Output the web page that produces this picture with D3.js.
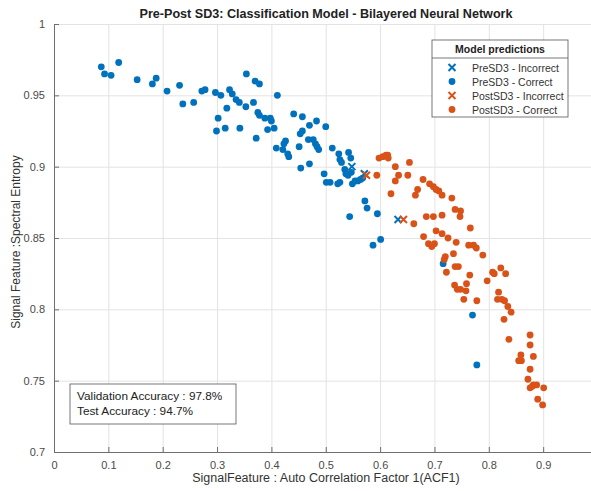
<!DOCTYPE html>
<html>
<head>
<meta charset="utf-8">
<script src="https://cdn.jsdelivr.net/npm/d3@7"></script>
<style>
  body { margin: 0; background: #fff; }
  svg { font-family: "Liberation Sans", Arial, sans-serif; display: block; }
</style>
</head>
<body>
<div class="canvas"></div>
<script>
// data: [ACF1, spectral entropy]
const preSD3Incorrect = [[0.548, 0.900], [0.571, 0.895], [0.633, 0.863]];
const preSD3Correct = [
  [0.087, 0.970], [0.093, 0.965], [0.105, 0.964], [0.119, 0.973], [0.153, 0.961],
  [0.181, 0.958], [0.188, 0.962], [0.208, 0.953], [0.231, 0.957], [0.237, 0.944],
  [0.257, 0.945], [0.272, 0.953], [0.278, 0.954], [0.297, 0.952], [0.307, 0.950],
  [0.323, 0.954], [0.328, 0.951], [0.335, 0.947], [0.341, 0.945], [0.318, 0.941],
  [0.302, 0.934], [0.299, 0.925], [0.315, 0.927], [0.342, 0.927], [0.354, 0.965],
  [0.370, 0.960], [0.378, 0.958], [0.411, 0.950], [0.367, 0.945], [0.353, 0.942],
  [0.375, 0.938], [0.378, 0.936], [0.388, 0.934], [0.398, 0.934], [0.400, 0.932],
  [0.393, 0.926], [0.405, 0.927], [0.372, 0.920], [0.441, 0.937], [0.457, 0.935],
  [0.483, 0.932], [0.470, 0.929], [0.500, 0.928], [0.457, 0.925], [0.453, 0.923],
  [0.426, 0.918], [0.423, 0.916], [0.468, 0.919], [0.477, 0.919], [0.481, 0.916],
  [0.484, 0.914], [0.487, 0.912], [0.451, 0.914], [0.409, 0.913], [0.421, 0.912],
  [0.430, 0.909], [0.432, 0.907], [0.512, 0.913], [0.524, 0.909], [0.542, 0.910],
  [0.546, 0.906], [0.526, 0.905], [0.529, 0.903], [0.454, 0.899], [0.470, 0.902],
  [0.535, 0.898], [0.537, 0.895], [0.541, 0.894], [0.547, 0.896], [0.497, 0.895],
  [0.501, 0.889], [0.508, 0.889], [0.522, 0.888], [0.526, 0.889], [0.549, 0.888],
  [0.554, 0.890], [0.559, 0.890], [0.564, 0.891], [0.568, 0.892], [0.572, 0.876],
  [0.576, 0.871], [0.544, 0.865], [0.595, 0.867], [0.601, 0.849], [0.587, 0.845],
  [0.716, 0.832], [0.770, 0.796], [0.778, 0.761]
];
const postSD3Incorrect = [[0.575, 0.894], [0.643, 0.863]];
const postSD3Correct = [
  [0.594, 0.894], [0.598, 0.906], [0.605, 0.907], [0.611, 0.908], [0.614, 0.908],
  [0.615, 0.906], [0.628, 0.900], [0.654, 0.903], [0.634, 0.894], [0.628, 0.890],
  [0.651, 0.894], [0.620, 0.881], [0.679, 0.891], [0.691, 0.888], [0.698, 0.886],
  [0.703, 0.884], [0.708, 0.883], [0.669, 0.884], [0.665, 0.880], [0.714, 0.880],
  [0.732, 0.878], [0.738, 0.870], [0.748, 0.869], [0.747, 0.865], [0.714, 0.866],
  [0.685, 0.865], [0.698, 0.865], [0.662, 0.860], [0.766, 0.857], [0.703, 0.855],
  [0.680, 0.851], [0.714, 0.853], [0.725, 0.850], [0.740, 0.847], [0.689, 0.846],
  [0.695, 0.844], [0.700, 0.846], [0.763, 0.845], [0.772, 0.845], [0.777, 0.843],
  [0.735, 0.839], [0.720, 0.837], [0.718, 0.835], [0.789, 0.838], [0.722, 0.826],
  [0.738, 0.830], [0.744, 0.830], [0.765, 0.824], [0.797, 0.820], [0.737, 0.817],
  [0.742, 0.814], [0.748, 0.814], [0.759, 0.818], [0.758, 0.813], [0.754, 0.807],
  [0.778, 0.806], [0.807, 0.826], [0.810, 0.825], [0.822, 0.829], [0.831, 0.825],
  [0.818, 0.812], [0.816, 0.807], [0.824, 0.807], [0.829, 0.806], [0.835, 0.802],
  [0.841, 0.798], [0.828, 0.793], [0.837, 0.779], [0.876, 0.782], [0.876, 0.775],
  [0.859, 0.768], [0.855, 0.764], [0.860, 0.764], [0.882, 0.767], [0.876, 0.758],
  [0.872, 0.751], [0.882, 0.747], [0.888, 0.747], [0.876, 0.745], [0.880, 0.746],
  [0.901, 0.745], [0.890, 0.737], [0.899, 0.733]
];
// tick at 1 falls just past the right edge of the window
const xTicks = [0, 0.1, 0.2, 0.3, 0.4, 0.5, 0.6, 0.7, 0.8, 0.9];
const yTicks = [0.7, 0.75, 0.8, 0.85, 0.9, 0.95, 1];
const accuracyLines = ['Validation Accuracy : 97.8%', 'Test Accuracy : 94.7%'];

const blue = '#0072BD';
const orange = '#D95319';

const svg = d3.select('.canvas')
  .append('svg')
  .attr('width', 591)
  .attr('height', 491);

// margins / dimensions (axes runs off the right edge like the original)
const margin = { top: 24, left: 54 };
const graphWidth = 543.5;
const graphHeight = 428;

const x = d3.scaleLinear().domain([0, 1]).range([0, graphWidth]);
const y = d3.scaleLinear().domain([0.7, 1]).range([graphHeight, 0]);

const graph = svg.append('g')
  .attr('transform', `translate(${margin.left},${margin.top})`);

// grid
graph.append('g')
  .attr('transform', `translate(0,${graphHeight})`)
  .call(d3.axisBottom(x).tickValues(xTicks).tickSize(-graphHeight).tickFormat(''))
  .call(g => g.select('.domain').remove())
  .selectAll('line').attr('stroke', '#e3e3e3');
graph.append('g')
  .call(d3.axisLeft(y).tickValues(yTicks).tickSize(-graphWidth).tickFormat(''))
  .call(g => g.select('.domain').remove())
  .selectAll('line').attr('stroke', '#e3e3e3');

// axes, ticks point inward
const xAxisGroup = graph.append('g')
  .attr('transform', `translate(0,${graphHeight})`)
  .call(d3.axisBottom(x).tickValues(xTicks).tickSizeInner(-5).tickSizeOuter(0).tickPadding(9)
    .tickFormat(d3.format('')));
const yAxisGroup = graph.append('g')
  .call(d3.axisLeft(y).tickValues(yTicks).tickSizeInner(-5).tickSizeOuter(0).tickPadding(9)
    .tickFormat(d3.format('')));

[xAxisGroup, yAxisGroup].forEach(g => {
  g.select('.domain').attr('stroke', '#6e6e6e');
  g.selectAll('line').attr('stroke', '#6e6e6e');
  g.selectAll('text').attr('fill', '#4a4a4a').style('font-size', '11px');
});

// markers
const dotR = 3.4;
function drawX(sel, size) {
  sel.append('path')
    .attr('d', `M${-size},${-size}L${size},${size}M${-size},${size}L${size},${-size}`)
    .attr('stroke-width', 2)
    .attr('fill', 'none');
}

const groups = [
  { data: preSD3Incorrect, color: blue, shape: 'x' },
  { data: preSD3Correct, color: blue, shape: 'o' },
  { data: postSD3Incorrect, color: orange, shape: 'x' },
  { data: postSD3Correct, color: orange, shape: 'o' }
];

groups.forEach(grp => {
  if (grp.shape === 'o') {
    graph.append('g').selectAll('circle')
      .data(grp.data)
      .enter()
      .append('circle')
      .attr('cx', d => x(d[0]))
      .attr('cy', d => y(d[1]))
      .attr('r', dotR)
      .attr('fill', grp.color);
  } else {
    const marks = graph.append('g').selectAll('g')
      .data(grp.data)
      .enter()
      .append('g')
      .attr('transform', d => `translate(${x(d[0])},${y(d[1])})`)
      .attr('stroke', grp.color);
    drawX(marks, 3.5);
  }
});

// title + labels
svg.append('text')
  .attr('x', 326).attr('y', 18)
  .attr('text-anchor', 'middle')
  .style('font-size', '12.6px').style('font-weight', 'bold')
  .attr('fill', '#222')
  .text('Pre-Post SD3: Classification Model - Bilayered Neural Network');

svg.append('text')
  .attr('x', 326).attr('y', 482)
  .attr('text-anchor', 'middle')
  .style('font-size', '12.5px')
  .attr('fill', '#333')
  .text('SignalFeature : Auto Correlation Factor 1(ACF1)');

svg.append('text')
  .attr('transform', 'translate(20,242) rotate(-90)')
  .attr('text-anchor', 'middle')
  .style('font-size', '12px')
  .attr('fill', '#333')
  .text('Signal Feature :Spectral Entropy');

// legend
const legendNames = ['PreSD3 - Incorrect', 'PreSD3 - Correct', 'PostSD3 - Incorrect', 'PostSD3 - Correct'];
const legend = svg.append('g').attr('transform', 'translate(432,40)');
legend.append('rect')
  .attr('width', 136).attr('height', 77)
  .attr('fill', '#fff').attr('stroke', '#555').attr('stroke-width', 0.8);
legend.append('line')
  .attr('x1', 0).attr('x2', 136).attr('y1', 18).attr('y2', 18)
  .attr('stroke', '#555').attr('stroke-width', 0.8);
legend.append('text')
  .attr('x', 68).attr('y', 13)
  .attr('text-anchor', 'middle')
  .style('font-size', '10.5px').style('font-weight', 'bold')
  .attr('fill', '#222')
  .text('Model predictions');

groups.forEach((grp, i) => {
  const row = legend.append('g').attr('transform', `translate(20,${27.5 + i * 14})`);
  if (grp.shape === 'o') {
    row.append('circle').attr('r', dotR).attr('fill', grp.color);
  } else {
    drawX(row.attr('stroke', grp.color), 3.5);
  }
  row.append('text')
    .attr('x', 20).attr('y', 4)
    .attr('stroke', 'none')
    .style('font-size', '10.5px')
    .attr('fill', '#333')
    .text(legendNames[i]);
});

// accuracy box
const acc = svg.append('g').attr('transform', 'translate(70,384)');
acc.append('rect')
  .attr('width', 166).attr('height', 40)
  .attr('fill', '#fff').attr('stroke', '#555').attr('stroke-width', 0.8);
acc.selectAll('text')
  .data(accuracyLines)
  .enter()
  .append('text')
  .attr('x', 7)
  .attr('y', (d, i) => 16 + i * 15)
  .style('font-size', '11.8px')
  .attr('fill', '#222')
  .text(d => d);
</script>
</body>
</html>
